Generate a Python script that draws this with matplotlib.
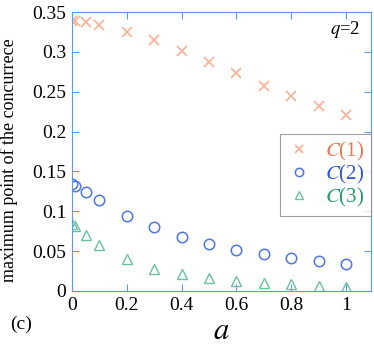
import numpy as np
import matplotlib
matplotlib.use("Agg")
import matplotlib.pyplot as plt

a_vals = [0, 0.01, 0.05, 0.1, 0.2, 0.3, 0.4, 0.5, 0.6, 0.7, 0.8, 0.9, 1.0]
c1 = [0.339, 0.339, 0.337, 0.334, 0.325, 0.315, 0.301, 0.287, 0.273, 0.257, 0.245, 0.232, 0.221]
c2 = [0.134, 0.132, 0.124, 0.114, 0.094, 0.080, 0.068, 0.059, 0.051, 0.046, 0.041, 0.038, 0.034]
c3 = [0.084, 0.082, 0.070, 0.058, 0.040, 0.028, 0.021, 0.016, 0.013, 0.010, 0.009, 0.006, 0.005]

xticks = [0, 0.2, 0.4, 0.6, 0.8, 1.0]
xtick_labels = ["0", "0.2", "0.4", "0.6", "0.8", "1"]
yticks = [0, 0.05, 0.1, 0.15, 0.2, 0.25, 0.3, 0.35]
ytick_labels = ["0", "0.05", "0.1", "0.15", "0.2", "0.25", "0.3", "0.35"]

plt.rcParams['font.family'] = ['Liberation Serif', 'DejaVu Serif']
plt.rcParams['mathtext.fontset'] = 'stix'

spine_col = '#5b9be8'

fig = plt.figure(figsize=(3.74, 3.48), dpi=100)
ax = fig.add_axes([0.1925, 0.1638, 0.7995, 0.8017])

ax.plot(a_vals, c1, 'x', color='#f6b59c', ms=7.5, mew=1.3, ls='none', label='$C$(1)')
ax.plot(a_vals, c2, 'o', mfc='none', mec='#4f74e4', ms=7.5, mew=1.1, ls='none', label='$C$(2)')
ax.plot(a_vals, c3, '^', mfc='none', mec='#6cc0a0', ms=6.5, mew=1.0, ls='none', label='$C$(3)')

ax.set_xlim(0, 1.091)
ax.set_ylim(0, 0.35)
ax.set_xticks(xticks)
ax.set_xticklabels(xtick_labels)
ax.set_yticks(yticks)
ax.set_yticklabels(ytick_labels)
ax.tick_params(direction='in', top=True, right=True, color=spine_col, length=5,
               labelsize=14, pad=4)
for s in ax.spines.values():
    s.set_color(spine_col)

ax.set_ylabel('maximum point of the concurrece', fontsize=13)
ax.yaxis.set_label_coords(-0.18, 0.47)
ax.set_xlabel('$a$', fontsize=22)
ax.xaxis.label.set_va('center')
ax.xaxis.set_label_coords(0.5, -0.145)
ax.text(0.965, 0.975, '$q$=2', transform=ax.transAxes, ha='right', va='top', fontsize=13.5)
fig.text(0.027, 0.055, '(c)', fontsize=14)

leg = ax.legend(loc='upper right', bbox_to_anchor=(1.0, 0.563), fontsize=15,
                frameon=True, fancybox=False, edgecolor='#888888',
                handletextpad=0.6, borderaxespad=0, handlelength=1.3,
                labelspacing=0.0, markerscale=0.8, borderpad=0.3)
leg.get_frame().set_linewidth(0.8)
for t, col in zip(leg.get_texts(), ['#e87850', '#3358d0', '#2a9a6a']):
    t.set_color(col)

fig.savefig('out.png', dpi=100)
